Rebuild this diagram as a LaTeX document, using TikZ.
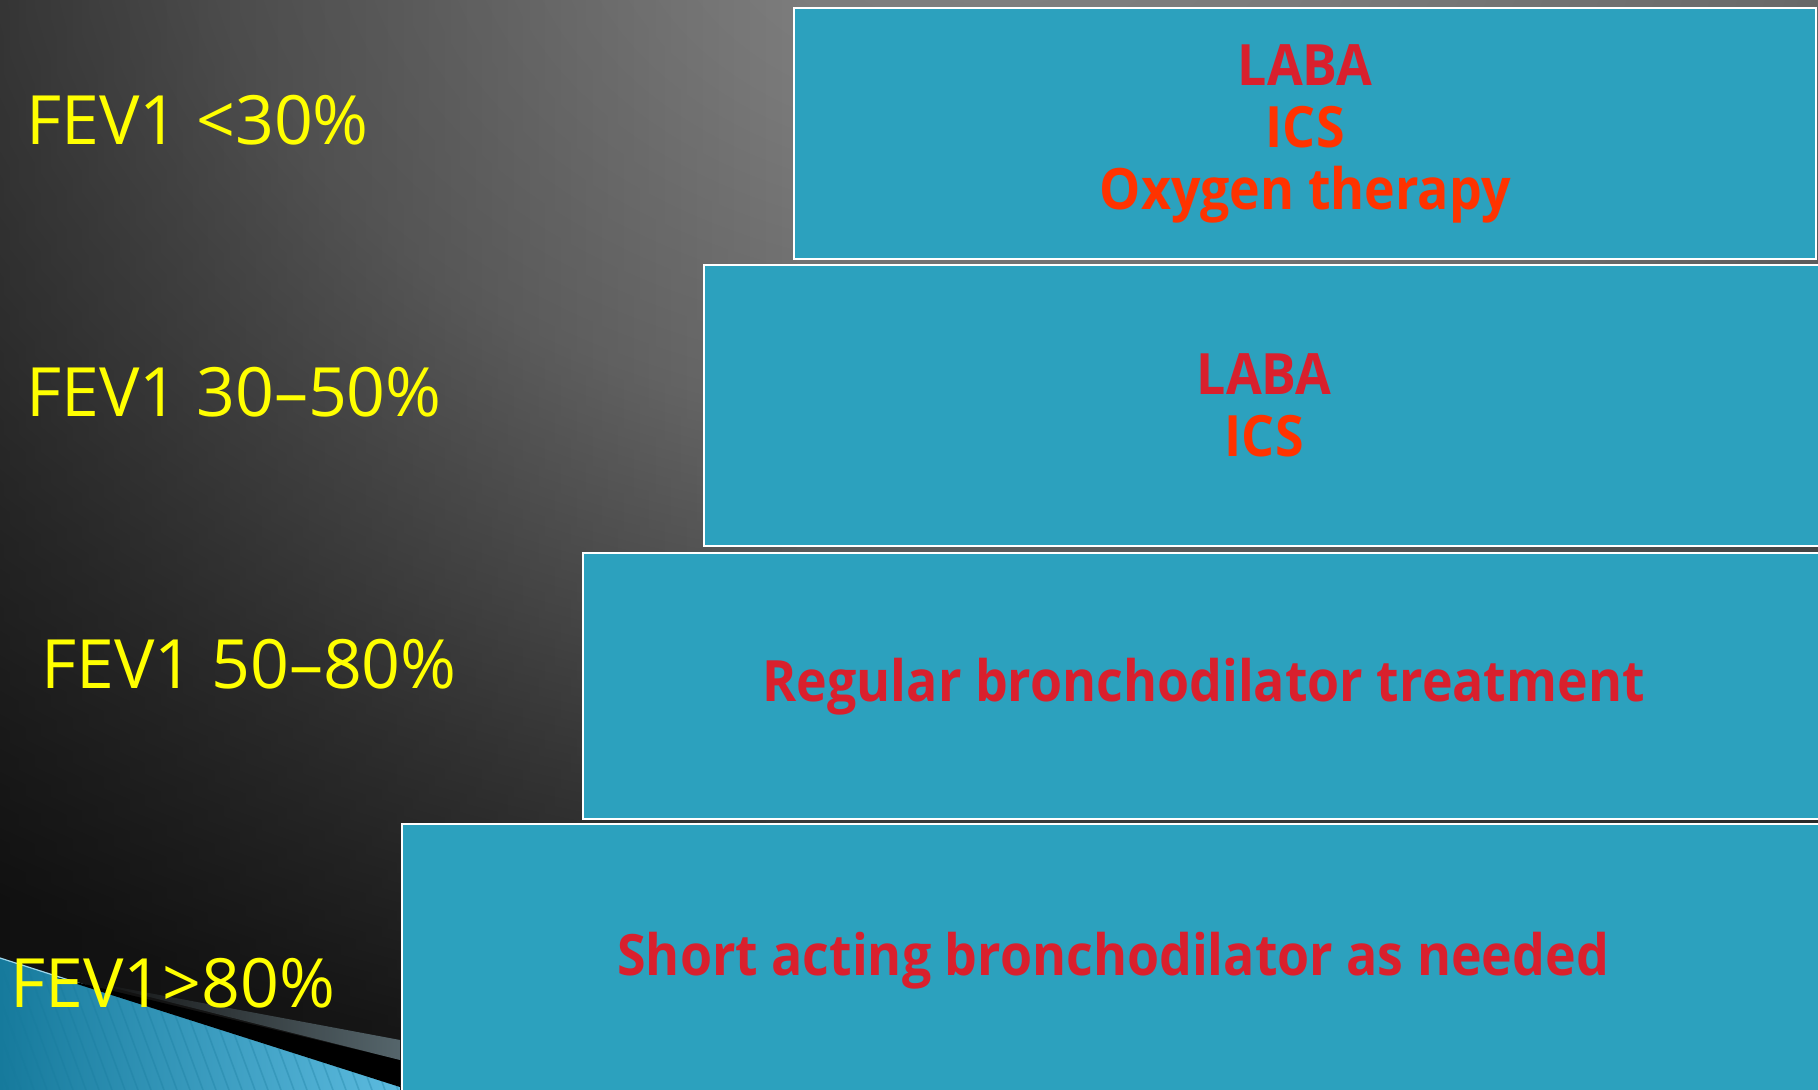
\documentclass[tikz,border=0pt]{standalone}
\usepackage{fontspec}
\setmainfont{Open Sans}
\newfontfamily\drugfont[FakeStretch=0.91]{Open Sans}
\usetikzlibrary{fadings}

\definecolor{bgA}{HTML}{828282}
\definecolor{bgB}{HTML}{7A7A7A}
\definecolor{bgC}{HTML}{6A6A6A}
\definecolor{bgD}{HTML}{4E4E4E}
\definecolor{bgE}{HTML}{3C3C3C}
\definecolor{bgF}{HTML}{2C2C2C}
\definecolor{bgG}{HTML}{1C1C1C}
\definecolor{bgH}{HTML}{1A1A1A}

% soft light coming from the top (the path fills the inner 25bp)
\pgfdeclareradialshading{slideglow}{\pgfpoint{0bp}{0bp}}{%
  color(0bp)=(bgA); color(5bp)=(bgB); color(11bp)=(bgC); color(16bp)=(bgD);
  color(19bp)=(bgE); color(22bp)=(bgF); color(25bp)=(bgG); color(50bp)=(bgH)}

\begin{document}
\begin{tikzpicture}[x=0.5pt, y=-0.5pt,
  tier/.style={draw=white, line width=1.2pt, fill=boxBlue, inner sep=0pt,
    anchor=north west, align=center, font=\drugfont\bfseries\fontsize{28.5}{31}\selectfont},
  fev/.style={text=fevYellow, font=\fontsize{34}{40}\selectfont, inner sep=0pt,
    anchor=base west}]

  \definecolor{boxBlue}{HTML}{2CA1BE}
  \definecolor{fevYellow}{HTML}{FFFF00}
  \definecolor{drugRed}{HTML}{D9202D}
  \definecolor{drugOrange}{HTML}{FF3300}
  \definecolor{wedgeDark}{HTML}{167A9C}
  \definecolor{wedgeLight}{HTML}{5CBBDF}
  \definecolor{streakGray}{HTML}{56666C}

\useasboundingbox (0,0) rectangle (1818,1090);

% background
\fill[bgG] (0,0) rectangle (1818,1090);
\begin{scope}
\clip (0,0) rectangle (1818,1090);
\begin{scope}[transform canvas={yscale=0.667}]
\shade[shading=slideglow] (1000,-150) circle [radius=900pt];
\end{scope}
\fill[black, opacity=0.4, path fading=east] (0,0) rectangle (800,1090);
\end{scope}

% corner wedge, bottom left
\begin{scope}
\clip (0,958) -- (400,1086) -- (400,1090) -- (0,1090) -- cycle;
\shade[left color=wedgeDark, right color=wedgeLight] (0,950) rectangle (400,1090);
\foreach \s in {-200,-187,...,500}
\draw[wedgeDark, opacity=0.3, line width=0.8pt] (\s,950) -- (\s+52,1090);
\end{scope}
\draw[wedgeLight!60!white, line width=0.6pt] (0,958) -- (400,1086);
\fill[black] (55,977) -- (400,1060) -- (400,1087) -- cycle;
\fill[streakGray, path fading=west] (90,982) -- (400,1040) -- (400,1060) -- cycle;

% the four steps
\node[tier, minimum width=511pt, minimum height=125.5pt] (stepSevere) at (793,7)
  {\textcolor{drugRed}{LABA}\\ \textcolor{drugOrange}{ICS}\\ \textcolor{drugOrange}{Oxygen therapy}};
\node[tier, minimum width=560pt, minimum height=140.5pt] (stepModerate) at (703,264)
  {\textcolor{drugRed}{LABA}\\ \textcolor{drugOrange}{ICS}};
\node[tier, minimum width=620.5pt, minimum height=133pt, text=drugRed] (stepMild) at (582,552)
  {Regular bronchodilator treatment};
\node[tier, minimum width=711pt, minimum height=136pt, text=drugRed] (stepNormal) at (401,823)
  {Short acting bronchodilator as needed};

% FEV1 ranges
\node[fev] (fevSevere) at (26,145) {FEV1 <30\%};
\node[fev] (fevModerate) at (26,417) {FEV1 30–50\%};
\node[fev] (fevMild) at (41,688) {FEV1 50–80\%};
\node[fev] (fevNormal) at (10,1007) {FEV1>80\%};

\end{tikzpicture}
\end{document}
